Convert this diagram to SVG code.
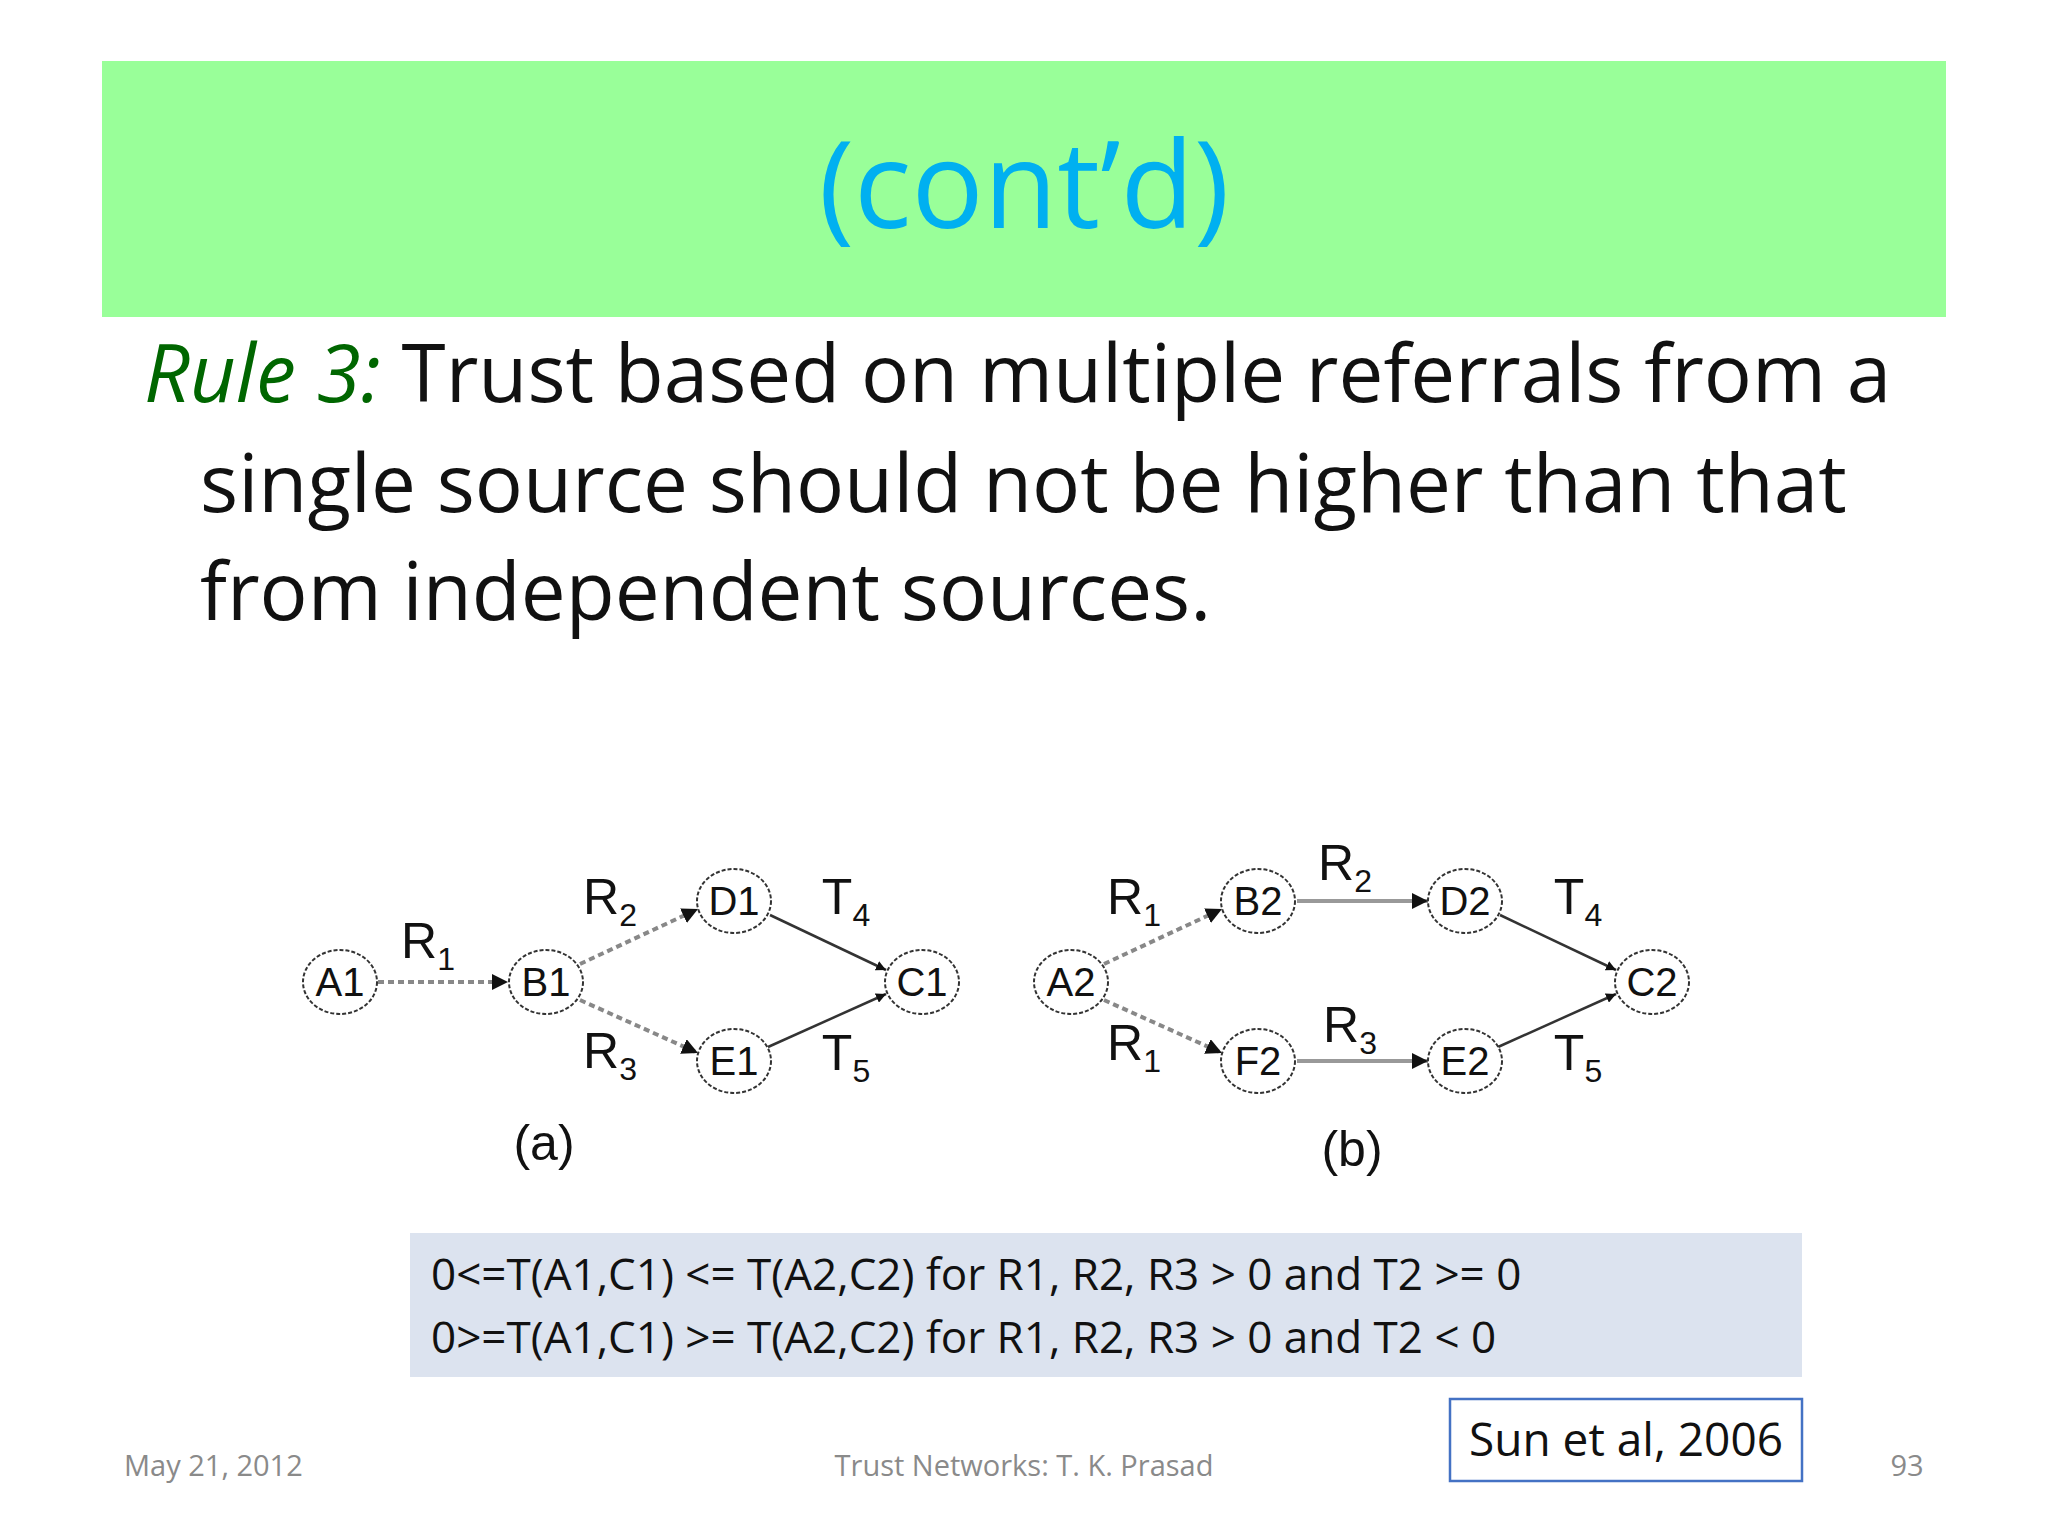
<svg xmlns="http://www.w3.org/2000/svg" width="2048" height="1536" viewBox="0 0 2048 1536">
<style>
.n ellipse{fill:#fff;stroke:#333;stroke-width:2;stroke-dasharray:4 2}
.n text,.lb{font-family:"Liberation Sans",Arial,sans-serif;font-size:40px;fill:#111;text-anchor:middle}
.lb{font-size:50px}
.sub{font-size:32px}
.dash{stroke:#888;stroke-width:4;stroke-dasharray:6 4;fill:none;marker-end:url(#ah)}
.sol{stroke:#999;stroke-width:4;fill:none;marker-end:url(#ah)}
.dk{stroke:#333;stroke-width:2.5;fill:none;marker-end:url(#ah)}
.body{font-family:"Open Sans","Liberation Sans",sans-serif;fill:#111}
.foot{font-family:"Open Sans","Liberation Sans",sans-serif;font-size:29px;fill:#8a8a8a}
</style>
<defs>
<marker id="ah" viewBox="0 0 10 10" refX="10" refY="5" markerWidth="4" markerHeight="4" markerUnits="strokeWidth" orient="auto"><path d="M0,0L10,5L0,10z" fill="#111"/></marker>
</defs>
<rect width="2048" height="1536" fill="#fff"/>
<rect x="102" y="61" width="1844" height="256" fill="#99ff99"/>
<text x="1024" y="228" text-anchor="middle" font-family="Open Sans,Liberation Sans,sans-serif" font-size="120" fill="#00b0f0">(cont’d)</text>
<text class="body" font-size="80"><tspan x="144" y="402"><tspan font-style="italic" fill="#006600">Rule 3:</tspan> Trust based on multiple referrals from a</tspan><tspan x="200" y="512">single source should not be higher than that</tspan><tspan x="200" y="620">from independent sources.</tspan></text>

<g id="connectors">
<line class="dash" x1="378" y1="982" x2="508" y2="982"/>
<line class="dash" x1="580" y1="964" x2="698" y2="909"/>
<line class="dash" x1="580" y1="1000" x2="698" y2="1053"/>
<line class="dk" x1="770" y1="915" x2="886" y2="970"/>
<line class="dk" x1="768" y1="1047" x2="886" y2="994"/>
<line class="dash" x1="1104" y1="964" x2="1222" y2="909"/>
<line class="dash" x1="1104" y1="1000" x2="1222" y2="1053"/>
<line class="sol" x1="1297" y1="901" x2="1428" y2="901"/>
<line class="sol" x1="1297" y1="1061" x2="1428" y2="1061"/>
<line class="dk" x1="1500" y1="915" x2="1616" y2="970"/>
<line class="dk" x1="1498" y1="1047" x2="1616" y2="994"/>
</g>

<g id="A1" class="n"><ellipse cx="340" cy="982" rx="37" ry="32"/><text x="340" y="996">A1</text></g>
<g id="B1" class="n"><ellipse cx="546" cy="982" rx="37" ry="32"/><text x="546" y="996">B1</text></g>
<g id="D1" class="n"><ellipse cx="734" cy="901" rx="37" ry="32"/><text x="734" y="915">D1</text></g>
<g id="E1" class="n"><ellipse cx="734" cy="1061" rx="37" ry="32"/><text x="734" y="1075">E1</text></g>
<g id="C1" class="n"><ellipse cx="922" cy="982" rx="37" ry="32"/><text x="922" y="996">C1</text></g>
<g id="A2" class="n"><ellipse cx="1071" cy="982" rx="37" ry="32"/><text x="1071" y="996">A2</text></g>
<g id="B2" class="n"><ellipse cx="1258" cy="901" rx="37" ry="32"/><text x="1258" y="915">B2</text></g>
<g id="D2" class="n"><ellipse cx="1465" cy="901" rx="37" ry="32"/><text x="1465" y="915">D2</text></g>
<g id="F2" class="n"><ellipse cx="1258" cy="1061" rx="37" ry="32"/><text x="1258" y="1075">F2</text></g>
<g id="E2" class="n"><ellipse cx="1465" cy="1061" rx="37" ry="32"/><text x="1465" y="1075">E2</text></g>
<g id="C2" class="n"><ellipse cx="1652" cy="982" rx="37" ry="32"/><text x="1652" y="996">C2</text></g>

<g id="labels">
<text class="lb" x="428" y="958">R<tspan class="sub" dy="12">1</tspan></text>
<text class="lb" x="610" y="914">R<tspan class="sub" dy="12">2</tspan></text>
<text class="lb" x="610" y="1068">R<tspan class="sub" dy="12">3</tspan></text>
<text class="lb" x="846" y="914">T<tspan class="sub" dy="12">4</tspan></text>
<text class="lb" x="846" y="1070">T<tspan class="sub" dy="12">5</tspan></text>
<text class="lb" x="544" y="1160" font-size="46">(a)</text>
<text class="lb" x="1134" y="914">R<tspan class="sub" dy="12">1</tspan></text>
<text class="lb" x="1134" y="1060">R<tspan class="sub" dy="12">1</tspan></text>
<text class="lb" x="1345" y="880">R<tspan class="sub" dy="12">2</tspan></text>
<text class="lb" x="1350" y="1042">R<tspan class="sub" dy="12">3</tspan></text>
<text class="lb" x="1578" y="914">T<tspan class="sub" dy="12">4</tspan></text>
<text class="lb" x="1578" y="1070">T<tspan class="sub" dy="12">5</tspan></text>
<text class="lb" x="1352" y="1166" font-size="46">(b)</text>
</g>

<rect x="410" y="1233" width="1392" height="144" fill="#dce3ef"/>
<text class="body" font-size="44"><tspan x="431" y="1290">0&lt;=T(A1,C1) &lt;= T(A2,C2)  for R1, R2, R3 &gt; 0 and T2 &gt;= 0</tspan><tspan x="431" y="1353">0&gt;=T(A1,C1) &gt;= T(A2,C2)  for R1, R2, R3 &gt; 0 and T2 &lt; 0</tspan></text>
<rect x="1450" y="1399" width="352" height="82" fill="#fff" stroke="#4472c4" stroke-width="2.5"/>
<text class="body" font-size="46" x="1626" y="1456" text-anchor="middle">Sun et al, 2006</text>
<text class="foot" x="124" y="1476">May 21, 2012</text>
<text class="foot" x="1024" y="1476" text-anchor="middle">Trust Networks: T. K. Prasad</text>
<text class="foot" x="1907" y="1476" text-anchor="middle">93</text>
</svg>
